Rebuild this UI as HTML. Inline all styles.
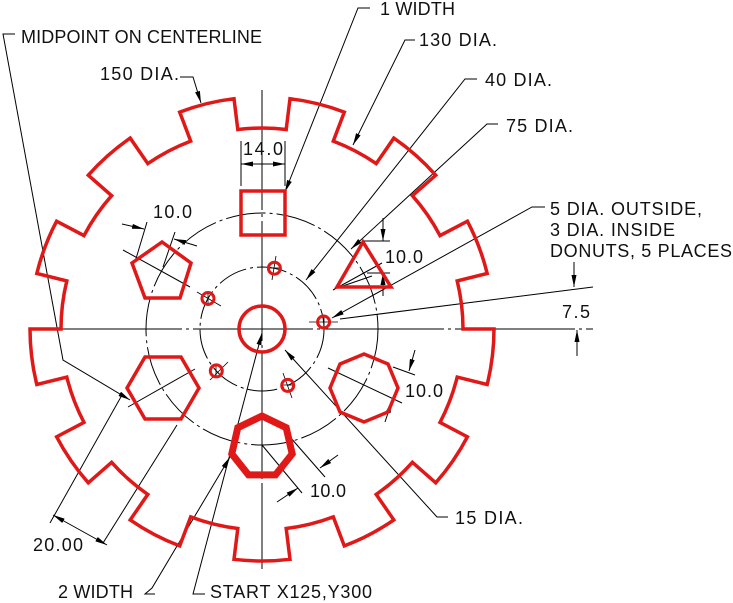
<!DOCTYPE html>
<html><head><meta charset="utf-8"><style>
html,body{margin:0;padding:0;background:#fff;}
svg{display:block;}
text{font-family:"Liberation Sans",sans-serif;font-size:18px;fill:#111;}
</style></head><body>
<svg width="733" height="603" viewBox="0 0 733 603" xmlns="http://www.w3.org/2000/svg">
<defs>
<marker id="a" viewBox="0 0 12 5" refX="12" refY="2.5" markerWidth="12" markerHeight="5" markerUnits="userSpaceOnUse" orient="auto"><path d="M0,0 L12,2.5 L0,5 z" fill="#000"/></marker>
</defs>
<g fill="none" stroke="#000" stroke-width="1">
<line x1="62" y1="329" x2="593" y2="329" stroke-dasharray="120 4 3 4"/>
<line x1="262" y1="90" x2="262" y2="569" stroke-dasharray="120 4 3 4"/>
<circle cx="262" cy="329" r="116" stroke-dasharray="40 4 3 4"/>
<circle cx="262" cy="329" r="62" stroke-dasharray="30 4 3 4"/>
<line x1="241" y1="141" x2="241" y2="186"/><line x1="285" y1="141" x2="285" y2="186"/>
<line x1="262" y1="164" x2="241" y2="164" marker-end="url(#a)"/><line x1="262" y1="164" x2="285" y2="164" marker-end="url(#a)"/>
<polyline points="15,34 3,34 63,360 130,400" marker-end="url(#a)"/>
<polyline points="180,77 193,77 201,103" marker-end="url(#a)"/>
<polyline points="370,8 358,8 285,192" marker-end="url(#a)"/>
<polyline points="415,40 405,40 353,145" marker-end="url(#a)"/>
<polyline points="477,79 465,79 306,280" marker-end="url(#a)"/>
<polyline points="498,124 487,124 351,249" marker-end="url(#a)"/>
<polyline points="545,207 532,207 332,318" marker-end="url(#a)"/>
<polyline points="448,517 437,517 285,350" marker-end="url(#a)"/>
<polyline points="155,594 145,594 152,588 230,457" marker-end="url(#a)"/>
<polyline points="205,594 193,594 262,333" marker-end="url(#a)"/>
<line x1="340" y1="319" x2="593" y2="287"/>
<line x1="574" y1="262" x2="574" y2="287" marker-end="url(#a)"/>
<line x1="577" y1="356" x2="577" y2="330" marker-end="url(#a)"/>
<line x1="123" y1="250" x2="190" y2="287"/>
<line x1="135" y1="262" x2="147" y2="222"/><line x1="163" y1="267" x2="175" y2="232"/>
<line x1="122" y1="224" x2="144" y2="229" marker-end="url(#a)"/>
<line x1="197" y1="246" x2="174" y2="239" marker-end="url(#a)"/>
<line x1="363" y1="241" x2="390" y2="241"/><line x1="367" y1="273" x2="390" y2="273"/>
<line x1="383" y1="218" x2="383" y2="241" marker-end="url(#a)"/>
<line x1="383" y1="296" x2="383" y2="273" marker-end="url(#a)"/>
<line x1="333" y1="290" x2="382" y2="263"/><line x1="337" y1="288" x2="372" y2="276"/>
<line x1="128" y1="407" x2="195" y2="369"/>
<line x1="50" y1="523" x2="122" y2="395"/><line x1="103" y1="543" x2="177" y2="425"/>
<line x1="80" y1="530" x2="53" y2="515" marker-end="url(#a)"/><line x1="80" y1="530" x2="107" y2="545" marker-end="url(#a)"/>
<line x1="328" y1="368" x2="402" y2="403"/>
<line x1="393" y1="367" x2="415" y2="375"/>
<line x1="415" y1="350" x2="409" y2="371" marker-end="url(#a)"/>
<line x1="385" y1="422" x2="392" y2="401" marker-end="url(#a)"/>
<line x1="290" y1="437" x2="325" y2="477"/><line x1="262" y1="445" x2="302" y2="493"/>
<line x1="338" y1="455" x2="320" y2="468" marker-end="url(#a)"/>
<line x1="277" y1="502" x2="298" y2="488" marker-end="url(#a)"/>
<g stroke-width="0.8">
<line x1="309" y1="322" x2="338" y2="322"/><line x1="324" y1="316" x2="324" y2="328"/>
<line x1="276" y1="256" x2="272" y2="280"/><line x1="268" y1="268" x2="281" y2="268"/>
<line x1="197" y1="292" x2="221" y2="306"/><line x1="208" y1="292" x2="208" y2="305"/>
<line x1="210" y1="380" x2="228" y2="362"/><line x1="216" y1="365" x2="216" y2="377"/>
<line x1="283" y1="373" x2="292" y2="398"/><line x1="282" y1="385" x2="294" y2="385"/>
</g>
</g>
<g fill="none" stroke="#e01818" stroke-width="3.5" stroke-linejoin="miter">
<path d="M494,329 L463,329 A201,201 0 0 0 457.2,280.9 L487.2,273.5 A232,232 0 0 0 467.4,221.2 L440,235.6 A201,201 0 0 0 412.4,195.7 L435.7,175.2 A232,232 0 0 0 393.8,138.1 L376.2,163.6 A201,201 0 0 0 333.3,141.1 L344.3,112.1 A232,232 0 0 0 290,98.7 L286.2,129.5 A201,201 0 0 0 237.8,129.5 L234,98.7 A232,232 0 0 0 179.7,112.1 L190.7,141.1 A201,201 0 0 0 147.8,163.6 L130.2,138.1 A232,232 0 0 0 88.3,175.2 L111.6,195.7 A201,201 0 0 0 84,235.6 L56.6,221.2 A232,232 0 0 0 36.8,273.5 L66.8,280.9 A201,201 0 0 0 61,329 L30,329 A232,232 0 0 0 36.8,384.5 L66.8,377.1 A201,201 0 0 0 84,422.4 L56.6,436.8 A232,232 0 0 0 88.3,482.8 L111.6,462.3 A201,201 0 0 0 147.8,494.4 L130.2,519.9 A232,232 0 0 0 179.7,545.9 L190.7,516.9 A201,201 0 0 0 237.8,528.5 L234,559.3 A232,232 0 0 0 290,559.3 L286.2,528.5 A201,201 0 0 0 333.3,516.9 L344.3,545.9 A232,232 0 0 0 393.8,519.9 L376.2,494.4 A201,201 0 0 0 412.4,462.3 L435.7,482.8 A232,232 0 0 0 467.4,436.8 L440,422.4 A201,201 0 0 0 457.2,377.1 L487.2,384.5 A232,232 0 0 0 494,329 Z"/>
<circle cx="262" cy="329" r="23"/>
<rect x="241" y="191" width="44" height="44"/>
<polygon points="363,242 337,287 391,287"/>
<polygon points="162,242 132,263 145,298 180,298 191,263"/>
<polygon points="145,357 181,357 199,388 181,419 145,419 127,388"/>
<polygon points="364,354 388,364 398,388 388,412 364,422 340,412 330,388 340,364"/>
<polygon points="262,416 286.2,427.7 292.2,453.9 275.5,474.9 248.5,474.9 231.8,453.9 237.8,427.7" stroke-width="7"/>
<g stroke-width="3">
<circle cx="323.6" cy="322" r="6"/><circle cx="274.4" cy="268.2" r="6"/><circle cx="208" cy="298.5" r="6"/><circle cx="216.3" cy="370.9" r="6"/><circle cx="287.7" cy="385.4" r="6"/>
</g>
</g>
<text x="21" y="43" textLength="241">MIDPOINT ON CENTERLINE</text>
<text x="100" y="80" textLength="79">150 DIA.</text>
<text x="380" y="15" textLength="75">1 WIDTH</text>
<text x="419" y="46" textLength="78">130 DIA.</text>
<text x="485" y="86" textLength="67">40 DIA.</text>
<text x="506" y="132" textLength="67">75 DIA.</text>
<text x="550" y="215" textLength="152">5 DIA. OUTSIDE,</text>
<text x="550" y="236" textLength="125">3 DIA. INSIDE</text>
<text x="550" y="257" textLength="182">DONUTS, 5 PLACES</text>
<text x="562" y="318" textLength="28">7.5</text>
<text x="243" y="155" textLength="40">14.0</text>
<text x="153" y="218" textLength="39">10.0</text>
<text x="385" y="263" textLength="38">10.0</text>
<text x="405" y="397" textLength="38">10.0</text>
<text x="310" y="497" textLength="36">10.0</text>
<text x="455" y="524" textLength="68">15 DIA.</text>
<text x="33" y="551" textLength="50">20.00</text>
<text x="58" y="598" textLength="75">2 WIDTH</text>
<text x="210" y="598" textLength="162">START X125,Y300</text>
</svg>
</body></html>
